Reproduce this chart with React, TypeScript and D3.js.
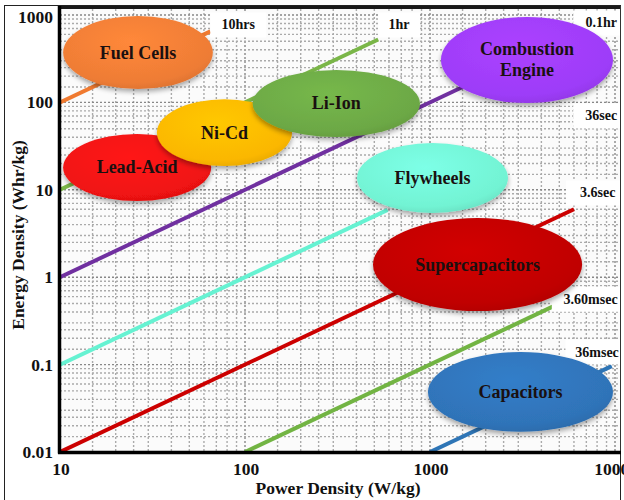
import React from "react";
import * as d3 from "d3";

// ---- data ----
const xTickValues = [10, 100, 1000, 10000];
const xTickLabels = ["10", "100", "1000", "10000"];
const yTickValues = [0.01, 0.1, 1, 10, 100, 1000];
const yTickLabels = ["0.01", "0.1", "1", "10", "100", "1000"];

// constant discharge-time lines: E = P * t(h)
const timeLabels = ["10hrs", "1hr", "0.1hr", "36sec", "3.6sec", "3.60msec", "36msec"];
const timeHours = [10, 1, 0.1, 0.01, 0.001, 0.0001, 0.00001];
const lineStartP = [10, 10, 10, 10, 10, 100, 1000];
const lineEndP = [65, 525, 6000, 590, 6000, 4600, 9600];
const lineColors = ["#f07a30", "#7ab648", "#7030a0", "#66f2d2", "#cc0000", "#72b443", "#2e75b6"];
// label anchor (power, energy) for each time label
const labelP = [92, 680, 8600, 8700, 8700, 7400, 8000];
const labelE = [770, 770, 810, 70, 9.2, 0.56, 0.139];

// technologies (ellipse extents in data units)
const techNames = ["Fuel Cells", "Lead-Acid", "Ni-Cd", "Li-Ion", "Combustion\nEngine", "Flywheels", "Supercapacitors", "Capacitors"];
const techPmin = [10.4, 10.4, 33.4, 110, 1146, 403, 492, 975];
const techPmax = [67, 65.6, 179.6, 883, 9750, 2640, 6640, 9750];
const techEmin = [142, 7.45, 18.7, 40.2, 98.4, 5.43, 0.41, 0.017];
const techEmax = [974, 43.5, 109, 235, 950, 34.3, 4.75, 0.139];
const techColors = ["#ee7c35", "#f01212", "#fbb700", "#6ca845", "#9d3cf8", "#72f3d3", "#c00000", "#2f73b8"];

const W = 624;
const H = 500;
const plotLeft = 60;
const plotRight = 620;
const plotTop = 9;
const plotBottom = 452;

const x = d3.scaleLog().domain([10, 10000]).range([60, 615]);
const y = d3.scaleLog().domain([0.01, 1000]).range([452, 15]);

const serif = "'Liberation Serif', 'Times New Roman', serif";

function minorValues(lo: number, hi: number, steps: number[]) {
  const out: number[] = [];
  for (let d = lo; d < hi; d *= 10) {
    for (const s of steps) out.push(d * s);
  }
  return out;
}

export default function App() {
  const steps = [1, 1.5, 2, 2.5, 3, 4, 5, 6, 7, 8, 9];
  const vGrid = minorValues(10, 10000, steps).concat([10000]);
  const hGrid = minorValues(0.01, 1000, steps).concat([1000]);

  const lineGen = d3
    .line<[number, number]>()
    .x((d) => x(d[0]))
    .y((d) => y(d[1]));

  return (
    <div style={{ position: "absolute", left: 0, top: 0 }}>
      <svg width={W} height={H} style={{ display: "block", background: "#fff" }}>
        <defs>
          <clipPath id="plotClip">
            <rect x={plotLeft} y={plotTop} width={plotRight - plotLeft} height={plotBottom - plotTop} />
          </clipPath>
          <filter id="shadow" x="-20%" y="-20%" width="140%" height="150%">
            <feGaussianBlur in="SourceAlpha" stdDeviation="2.5" />
            <feOffset dx="0" dy="3" result="b" />
            <feComponentTransfer>
              <feFuncA type="linear" slope="0.35" />
            </feComponentTransfer>
            <feMerge>
              <feMergeNode />
              <feMergeNode in="SourceGraphic" />
            </feMerge>
          </filter>
          {techColors.map((c, i) => (
            <radialGradient key={i} id={`g${i}`} cx="45%" cy="35%" r="70%">
              <stop offset="0%" stopColor={d3.color(c)!.brighter(0.25).formatHex()} />
              <stop offset="80%" stopColor={c} />
              <stop offset="100%" stopColor={d3.color(c)!.darker(0.25).formatHex()} />
            </radialGradient>
          ))}
        </defs>

        {/* outer frame */}
        <rect x={4.5} y={5.5} width={616} height={520} fill="none" stroke="#222" strokeWidth={1} />

        {/* plot background */}
        <rect x={plotLeft} y={plotTop} width={plotRight - plotLeft} height={plotBottom - plotTop} fill="#fbfbfb" />

        <g clipPath="url(#plotClip)">
          {/* grid */}
          {vGrid.map((v, i) => (
            <line
              key={`v${i}`}
              x1={x(v)}
              x2={x(v)}
              y1={plotTop}
              y2={plotBottom}
              stroke={Number.isInteger(Math.log10(v)) ? "#888" : "#aaa"}
              strokeWidth={1.4}
              strokeDasharray="2 2"
            />
          ))}
          {hGrid.map((v, i) => (
            <line
              key={`h${i}`}
              x1={plotLeft}
              x2={plotRight}
              y1={y(v)}
              y2={y(v)}
              stroke={Math.abs(Math.log10(v) - Math.round(Math.log10(v))) < 1e-9 ? "#888" : "#aaa"}
              strokeWidth={1.4}
              strokeDasharray="2 2"
            />
          ))}

          {/* constant-time lines */}
          {timeHours.map((t, i) => (
            <path
              key={`l${i}`}
              d={lineGen([
                [lineStartP[i], lineStartP[i] * t],
                [lineEndP[i], lineEndP[i] * t],
              ])!}
              stroke={lineColors[i]}
              strokeWidth={4}
              fill="none"
            />
          ))}

          {/* time labels */}
          {timeLabels.map((lab, i) => {
            const w = lab.length * 7.2 + 20;
            let cx = x(labelP[i]);
            const cy = y(labelE[i]);
            const textW = lab.length * 7.1;
            if (cx + textW / 2 > plotRight - 1) cx = plotRight - 1 - textW / 2;
            return (
              <g key={`t${i}`}>
                <rect x={cx - w / 2} y={cy - 12.5} width={w} height={25} fill="#fff" />
                <text
                  x={cx}
                  y={cy}
                  textAnchor="middle"
                  dominantBaseline="central"
                  fontFamily={serif}
                  fontWeight="bold"
                  fontSize={14}
                  fill="#111"
                >
                  {lab}
                </text>
              </g>
            );
          })}

          {/* technology ellipses */}
          {techNames.map((name, i) => {
            const x0 = x(techPmin[i]);
            const x1 = x(techPmax[i]);
            const y0 = y(techEmax[i]);
            const y1 = y(techEmin[i]);
            const cx = (x0 + x1) / 2;
            const cy = (y0 + y1) / 2;
            const lines = name.split("\n");
            return (
              <g key={`e${i}`}>
                <ellipse
                  cx={cx}
                  cy={cy}
                  rx={(x1 - x0) / 2}
                  ry={(y1 - y0) / 2}
                  fill={`url(#g${i})`}
                  filter="url(#shadow)"
                />
                {lines.map((ln, j) => (
                  <text
                    key={j}
                    x={cx}
                    y={cy + (j - (lines.length - 1) / 2) * 21}
                    textAnchor="middle"
                    dominantBaseline="central"
                    fontFamily={serif}
                    fontWeight="bold"
                    fontSize={18}
                    fill="#1a1010"
                  >
                    {ln}
                  </text>
                ))}
              </g>
            );
          })}
        </g>

        {/* top & right borders of the plot */}
        <line x1={plotLeft} x2={plotRight} y1={7.5} y2={7.5} stroke="#1a1a1a" strokeWidth={3} />
        <line x1={plotRight + 0.5} x2={plotRight + 0.5} y1={6} y2={plotBottom} stroke="#333" strokeWidth={1} />

        {/* axes */}
        <line x1={59.5} x2={59.5} y1={6} y2={plotBottom + 1.5} stroke="#000" strokeWidth={3.5} />
        <line x1={58} x2={plotRight + 1} y1={452.5} y2={452.5} stroke="#000" strokeWidth={3.5} />

        {/* tick labels */}
        {yTickValues.map((v, i) => (
          <text
            key={`yt${i}`}
            x={53}
            y={Math.max(y(v), 17)}
            textAnchor="end"
            dominantBaseline="central"
            fontFamily={serif}
            fontWeight="bold"
            fontSize={17.5}
            fill="#111"
          >
            {yTickLabels[i]}
          </text>
        ))}
        {xTickValues.map((v, i) => (
          <text
            key={`xt${i}`}
            x={x(v) + 1}
            y={469}
            textAnchor="middle"
            dominantBaseline="central"
            fontFamily={serif}
            fontWeight="bold"
            fontSize={17.5}
            fill="#111"
          >
            {xTickLabels[i]}
          </text>
        ))}

        {/* axis titles */}
        <text
          x={338}
          y={488}
          textAnchor="middle"
          dominantBaseline="central"
          fontFamily={serif}
          fontWeight="bold"
          fontSize={17.5}
          fill="#111"
        >
          Power Density (W/kg)
        </text>
        <text
          transform="translate(18,235) rotate(-90)"
          textAnchor="middle"
          dominantBaseline="central"
          fontFamily={serif}
          fontWeight="bold"
          fontSize={17.5}
          fill="#111"
        >
          Energy Density (Whr/kg)
        </text>
      </svg>
    </div>
  );
}
